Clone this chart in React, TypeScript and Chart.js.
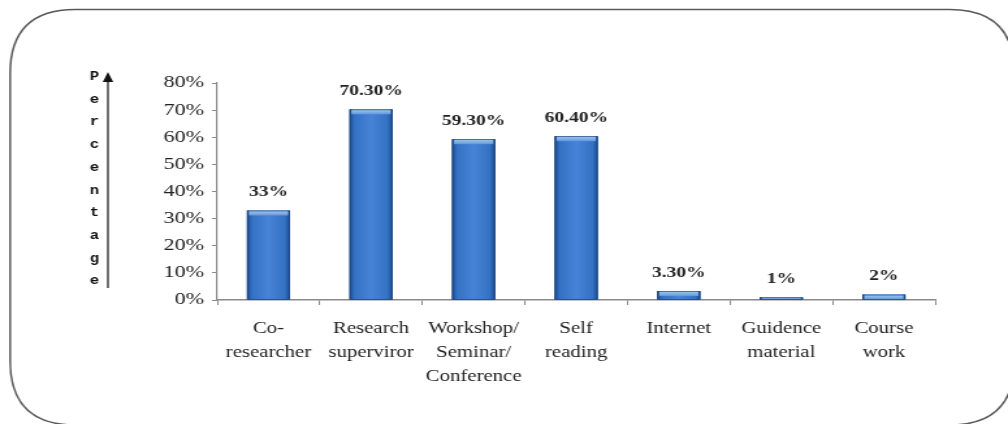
import React, { useEffect, useRef } from "react";
import { Chart, registerables } from "chart.js";

Chart.register(...registerables);

const categories: string[][] = [
  ["Co-", "researcher"],
  ["Research", "superviror"],
  ["Workshop/", "Seminar/", "Conference"],
  ["Self", "reading"],
  ["Internet"],
  ["Guidence", "material"],
  ["Course", "work"],
];
const values: number[] = [33, 70.3, 59.3, 60.4, 3.3, 1, 2];
const valueLabels: string[] = ["33%", "70.30%", "59.30%", "60.40%", "3.30%", "1%", "2%"];
const axisTitleLetters: string[] = ["P", "e", "r", "c", "e", "n", "t", "a", "g", "e"];

const SERIF = "'Times New Roman', 'Liberation Serif', serif";
// The reference picture is horizontally stretched; draw on a narrower canvas and stretch it.
const CANVAS_W = 775;
const CANVAS_H = 424;
const STRETCH = 1008 / CANVAS_W;

const framePlugin = {
  id: "frame",
  beforeDraw(chart: any) {
    const ctx = chart.ctx as CanvasRenderingContext2D;
    ctx.save();
    ctx.fillStyle = "#ffffff";
    ctx.fillRect(0, 0, chart.width, chart.height);
    // rounded border
    const x0 = 7.8, y0 = 9.5, x1 = 780, y1 = 425, rx = 50, ry = 64;
    ctx.beginPath();
    ctx.moveTo(x0 + rx, y0);
    ctx.lineTo(x1 - rx, y0);
    ctx.quadraticCurveTo(x1, y0, x1, y0 + ry);
    ctx.lineTo(x1, y1 - ry);
    ctx.quadraticCurveTo(x1, y1, x1 - rx, y1);
    ctx.lineTo(x0 + rx, y1);
    ctx.quadraticCurveTo(x0, y1, x0, y1 - ry);
    ctx.lineTo(x0, y0 + ry);
    ctx.quadraticCurveTo(x0, y0, x0 + rx, y0);
    ctx.closePath();
    ctx.strokeStyle = "#5a5a5a";
    ctx.lineWidth = 1.5;
    ctx.stroke();

    // vertical axis title with arrow
    ctx.fillStyle = "#111";
    ctx.font = "bold 12px 'Liberation Mono', 'Courier New', monospace";
    ctx.textAlign = "center";
    ctx.textBaseline = "middle";
    axisTitleLetters.forEach((ch, i) => {
      ctx.fillText(ch, 72.5, 77 + i * 22.7);
    });
    ctx.strokeStyle = "#111";
    ctx.lineWidth = 1.2;
    ctx.beginPath();
    ctx.moveTo(83, 288);
    ctx.lineTo(83, 80);
    ctx.stroke();
    ctx.beginPath();
    ctx.moveTo(83, 72);
    ctx.lineTo(79, 82);
    ctx.lineTo(87, 82);
    ctx.closePath();
    ctx.fill();
    ctx.restore();
  },
};

const barStylePlugin = {
  id: "barStyle",
  afterDatasetsDraw(chart: any) {
    const ctx = chart.ctx as CanvasRenderingContext2D;
    const meta = chart.getDatasetMeta(0);
    ctx.save();
    meta.data.forEach((el: any, i: number) => {
      const { x, y, base, width } = el.getProps(["x", "y", "base", "width"], true);
      const left = x - width / 2;
      const h = base - y;
      const g = ctx.createLinearGradient(left, 0, left + width, 0);
      g.addColorStop(0, "#1d4a8c");
      g.addColorStop(0.12, "#3472c4");
      g.addColorStop(0.5, "#4783d6");
      g.addColorStop(0.88, "#3472c4");
      g.addColorStop(1, "#1d4a8c");
      ctx.fillStyle = g;
      ctx.fillRect(left, y, width, h);
      // top cap
      const capH = Math.min(5, h);
      const cg = ctx.createLinearGradient(0, y, 0, y + capH);
      cg.addColorStop(0, "#a9ccf3");
      cg.addColorStop(1, "#5e98e0");
      ctx.fillStyle = cg;
      ctx.fillRect(left + 1.5, y, width - 3, capH);
      ctx.strokeStyle = "rgba(25,60,115,0.8)";
      ctx.lineWidth = 0.8;
      ctx.strokeRect(left + 0.4, y + 0.5, width - 0.8, h - 0.5);

      // value label
      ctx.fillStyle = "#222";
      ctx.font = `bold 15px ${SERIF}`;
      ctx.textAlign = "center";
      ctx.textBaseline = "middle";
      ctx.fillText(valueLabels[i], x, y - 18);
    });
    ctx.restore();
  },
};

export default function App() {
  const canvasRef = useRef<HTMLCanvasElement | null>(null);

  useEffect(() => {
    if (!canvasRef.current) return;
    const chart = new Chart(canvasRef.current, {
      type: "bar",
      data: {
        labels: categories,
        datasets: [
          {
            data: values,
            backgroundColor: "#3a78c9",
            barPercentage: 0.42,
            categoryPercentage: 1,
          },
        ],
      },
      options: {
        responsive: false,
        animation: false,
        devicePixelRatio: 1,
        layout: { padding: { top: 83, right: 56, left: 0, bottom: 0 } },
        plugins: {
          legend: { display: false },
          tooltip: { enabled: false },
        },
        scales: {
          x: {
            grid: {
              drawOnChartArea: false,
              drawTicks: true,
              tickLength: 5,
              color: "#8a8a8a",
              offset: true,
            },
            border: { color: "#8a8a8a", width: 1.5 },
            ticks: {
              color: "#222",
              padding: 12,
              maxRotation: 0,
              autoSkip: false,
              font: { family: SERIF, size: 16, lineHeight: 1.5 },
            },
            afterFit: (scale: any) => {
              scale.height = 124;
            },
          },
          y: {
            min: 0,
            max: 80,
            grid: {
              drawOnChartArea: false,
              drawTicks: true,
              tickLength: 4,
              color: "#8a8a8a",
            },
            border: { color: "#8a8a8a", width: 1.2 },
            ticks: {
              stepSize: 10,
              color: "#222",
              padding: 6,
              font: { family: SERIF, size: 17 },
              callback: (v: any) => `${v}%`,
            },
            afterFit: (scale: any) => {
              scale.width = 167;
            },
          },
        },
      },
      plugins: [framePlugin, barStylePlugin],
    });
    return () => chart.destroy();
  }, []);

  return (
    <div
      style={{
        position: "fixed",
        left: 0,
        top: 0,
        width: 1008,
        height: 424,
        background: "#fff",
        overflow: "hidden",
      }}
    >
      <div
        style={{
          width: CANVAS_W,
          height: CANVAS_H,
          transform: `scaleX(${STRETCH})`,
          transformOrigin: "0 0",
        }}
      >
        <canvas ref={canvasRef} width={CANVAS_W} height={CANVAS_H} style={{ display: "block" }} />
      </div>
    </div>
  );
}
